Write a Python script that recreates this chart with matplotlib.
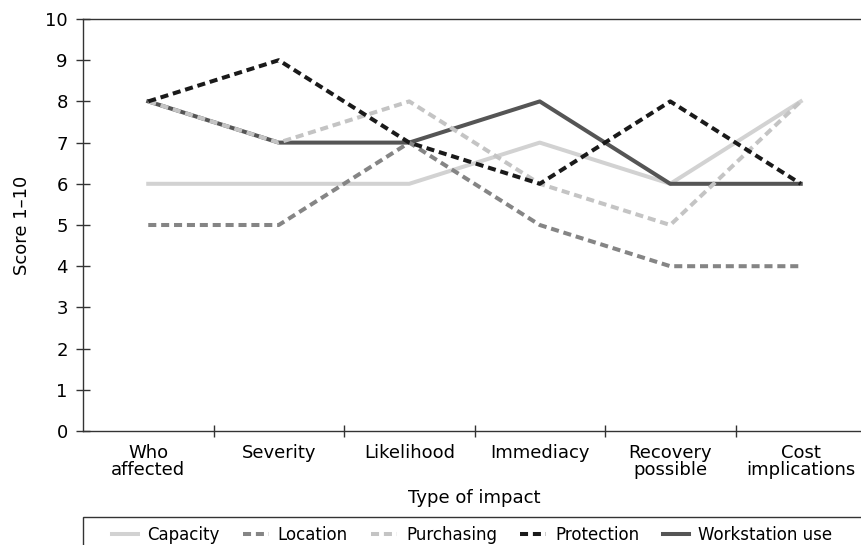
import matplotlib
matplotlib.use("Agg")
import matplotlib.pyplot as plt
from matplotlib.patches import Rectangle

plt.rcParams['font.family'] = ['DejaVu Sans']

categories = ["Who\naffected", "Severity", "Likelihood", "Immediacy", "Recovery\npossible", "Cost\nimplications"]
capacity = [6, 6, 6, 7, 6, 8]
location = [5, 5, 7, 5, 4, 4]
purchasing = [8, 7, 8, 6, 5, 8]
protection = [8, 9, 7, 6, 8, 6]
workstation = [8, 7, 7, 8, 6, 6]

W, H = 861, 545
fig = plt.figure(figsize=(W / 100, H / 100), dpi=100)
ax = fig.add_axes([83 / W, (H - 431) / H, (866 - 83) / W, (431 - 19) / H])

x = list(range(len(categories)))
lw = 2.9
dash = (0, (2.0, 1.2))
ax.plot(x, workstation, color="#555555", lw=lw, label="Workstation use", zorder=3)
ax.plot(x, capacity, color="#d2d2d2", lw=lw, label="Capacity", zorder=2)
ax.plot(x, location, color="#858585", lw=lw, linestyle=dash, label="Location", zorder=4)
ax.plot(x, purchasing, color="#c4c4c4", lw=lw, linestyle=dash, label="Purchasing", zorder=5)
ax.plot(x, protection, color="#1a1a1a", lw=lw, linestyle=dash, label="Protection", zorder=6)

FS = 13
ax.set_xlim(-0.5, len(categories) - 0.5)
ax.set_ylim(0, 10)
ax.set_yticks(range(0, 11))
ax.set_xticks(x)
ax.set_xticklabels(categories, fontsize=FS, linespacing=0.95)
ax.set_xticks([i + 0.5 for i in range(len(categories) - 1)], minor=True)
ax.tick_params(axis='x', which='major', length=0, pad=9)
ax.tick_params(axis='x', which='minor', direction='inout', length=9, width=1, color='#333333')
ax.tick_params(axis='y', direction='inout', length=10, width=1, labelsize=FS, pad=6, color='#333333')
for s in ax.spines.values():
    s.set_color('#333333')
    s.set_linewidth(1)
ax.spines['right'].set_visible(False)

ax.set_ylabel("Score 1\u201310", fontsize=FS, labelpad=10)
ax.set_xlabel("Type of impact", fontsize=FS, labelpad=7)

# legend box
fig.patches.append(Rectangle((83 / W, -0.1), 1.0, 0.1 + (H - 517) / H,
                             transform=fig.transFigure, fill=False,
                             edgecolor='#333333', lw=1))
handles, labels = ax.get_legend_handles_labels()
order = ["Capacity", "Location", "Purchasing", "Protection", "Workstation use"]
hmap = dict(zip(labels, handles))
fig.legend([hmap[k] for k in order], order, loc='center',
           bbox_to_anchor=(472 / W, 1 - 535 / H), ncol=5, frameon=False,
           fontsize=12, handlelength=1.56, handletextpad=0.54, columnspacing=1.4,
           borderpad=0)

fig.savefig("out.png", dpi=100)
